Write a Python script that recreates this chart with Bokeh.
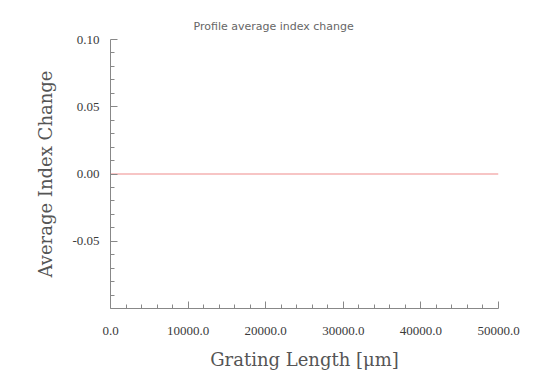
from bokeh.plotting import figure
from bokeh.models import FixedTicker, NumeralTickFormatter, Range1d
from bokeh.embed import file_html
from bokeh.resources import INLINE

# data
x_vals = [0.0, 50000.0]
y_vals = [0.0, 0.0]

x_major = [0, 10000, 20000, 30000, 40000, 50000]
x_minor = [v for v in range(0, 50001, 2000) if v % 10000 != 0]
y_major = [-0.05, 0.0, 0.05, 0.10]
y_minor = [round(-0.10 + 0.01 * i, 2) for i in range(21) if i % 5 != 0]

title_text = "Profile average index change"
x_label = "Grating Length [\u03bcm]"
y_label = "Average Index Change"

p = figure(width=546, height=377, output_backend="svg", toolbar_location=None,
           x_range=Range1d(0, 50000), y_range=Range1d(-0.1, 0.1),
           min_border_left=110, min_border_right=48, min_border_top=39, min_border_bottom=69)
p.outline_line_color = None
p.grid.visible = False
p.background_fill_color = "white"
p.border_fill_color = "white"

p.title.text = title_text
p.title.align = "left"
p.title.offset = 83
p.title.standoff = 13
p.title.text_font = "DejaVu Sans"
p.title.text_font_size = "11px"
p.title.text_font_style = "normal"
p.title.text_color = "#666666"

p.line(x_vals, y_vals, line_color="#f08c8c", line_width=1.2)

for ax in (p.xaxis[0], p.yaxis[0]):
    ax.axis_line_color = "#888888"
    ax.major_tick_line_color = "#888888"
    ax.minor_tick_line_color = "#888888"
    ax.major_tick_out = 0
    ax.major_tick_in = 7
    ax.minor_tick_out = 0
    ax.minor_tick_in = 4
    ax.major_label_text_font = "Liberation Serif"
    ax.major_label_text_font_size = "13px"
    ax.major_label_text_color = "#3a3a3a"
    ax.axis_label_text_font = "DejaVu Serif"
    ax.axis_label_text_font_size = "18px"
    ax.axis_label_text_font_style = "normal"
    ax.axis_label_text_color = "#555555"

p.xaxis[0].ticker = FixedTicker(ticks=x_major, minor_ticks=x_minor)
p.xaxis[0].formatter = NumeralTickFormatter(format="0.0")
p.xaxis[0].major_label_standoff = 18
p.xaxis[0].axis_label = x_label
p.xaxis[0].axis_label_standoff = 11

p.yaxis[0].ticker = FixedTicker(ticks=y_major, minor_ticks=y_minor)
p.yaxis[0].formatter = NumeralTickFormatter(format="0.00")
p.yaxis[0].major_label_standoff = 11
p.yaxis[0].axis_label = y_label
p.yaxis[0].axis_label_standoff = 13

open("out.html", "w").write(file_html(p, INLINE))
